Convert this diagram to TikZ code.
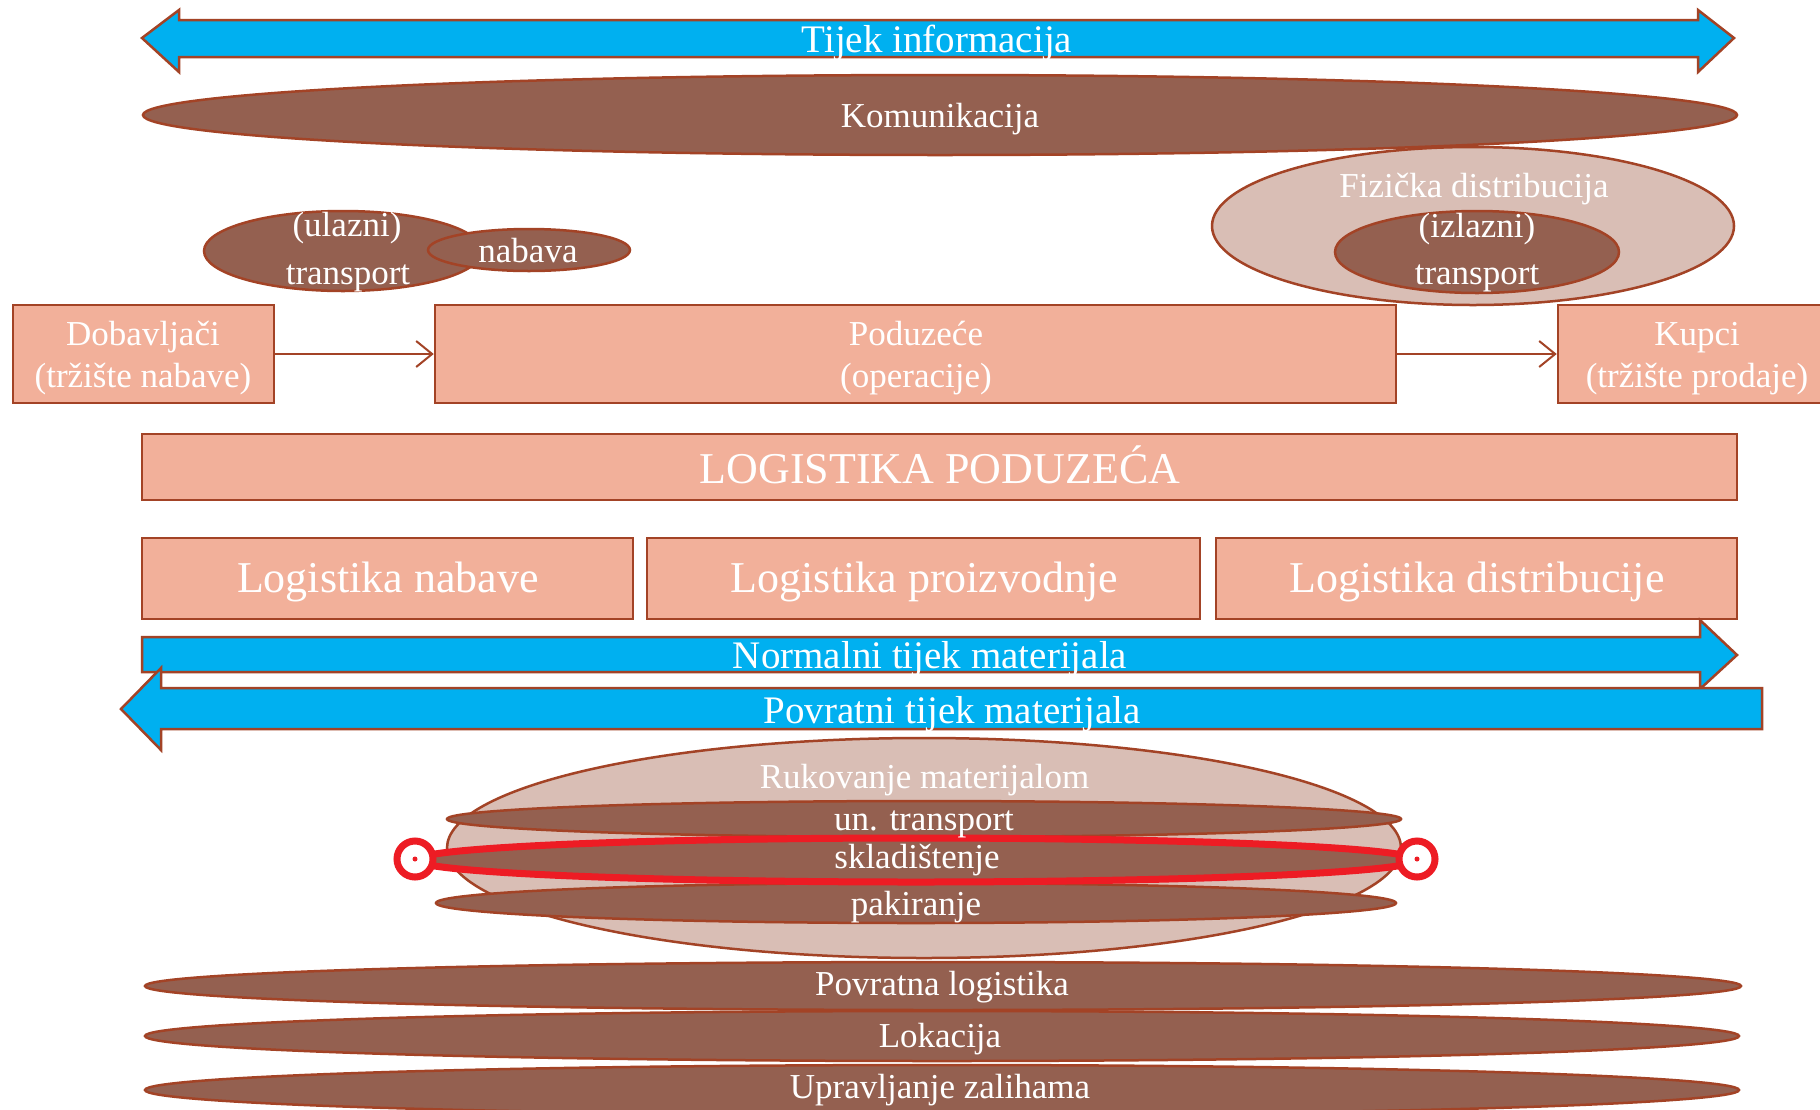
\documentclass[tikz,border=0pt]{standalone}
\usepackage{fontspec}
\setmainfont{Liberation Serif}
\usetikzlibrary{shapes.geometric,arrows.meta}
\definecolor{brd}{RGB}{163,67,38}
\definecolor{salmon}{RGB}{242,176,154}
\definecolor{dkbrown}{RGB}{148,96,80}
\definecolor{ltpink}{RGB}{217,190,181}
\definecolor{skyb}{RGB}{0,176,240}
\definecolor{redsel}{RGB}{237,28,36}
\newcommand\fsz[1]{\fontsize{#1}{#1}\selectfont}
\begin{document}
\begin{tikzpicture}[x=1pt,y=-1pt,
  bx/.style={draw=brd, fill=salmon, line width=2.5pt, rectangle, inner sep=0pt},
  dk/.style={draw=brd, fill=dkbrown, line width=2.5pt, ellipse, inner sep=0pt},
  lt/.style={draw=brd, fill=ltpink, line width=2.5pt, ellipse, inner sep=0pt},
  bar/.style={draw=brd, fill=skyb, line width=2.5pt, line join=miter},
  txt/.style={text=white, anchor=base, inner sep=0pt, font=\fsz{35}},
  big/.style={txt, font=\fsz{44}},
  mid/.style={txt, font=\fsz{39}},
  conn/.style={draw=brd, line width=2pt, -{Straight Barb[length=16pt,width=26pt]}},
  handle/.style={draw=redsel, line width=7pt, fill=white, circle, inner sep=0pt, minimum size=36pt}]
\useasboundingbox (0,0) rectangle (1820,1109);
\fill[white] (0,0) rectangle (1820,1109);

% information flow
\draw[bar] (142,38) -- (179,10) -- (179,20) -- (1698,20) -- (1698,10) -- (1734,38)
  -- (1698,72) -- (1698,57) -- (179,57) -- (179,72) -- cycle;
\node[mid] (tTijek) at (937,52) {Tijek informacija};

\node[dk, minimum width=1594pt, minimum height=80pt] (komm) at (940,115) {};
\node[txt] (tKomm) at (940,127) {Komunikacija};

% row of companies
\node[bx, minimum width=261pt, minimum height=98pt] (dob) at (143.5,354) {};
\node[bx, minimum width=961pt, minimum height=98pt] (pod) at (915.5,354) {};
\node[bx, minimum width=276pt, minimum height=98pt] (kup) at (1696,354) {};
\draw[conn] (dob) -- (pod);
\draw[conn] (pod) -- (kup);
\node[txt] (tDob1) at (143,345) {Dobavljači};
\node[txt] (tDob2) at (143,387) {(tržište nabave)};
\node[txt] (tPod1) at (916,345) {Poduzeće};
\node[txt] (tPod2) at (916,387) {(operacije)};
\node[txt] (tKup1) at (1697,345) {Kupci};
\node[txt] (tKup2) at (1697,387) {(tržište prodaje)};

% inbound
\node[dk, minimum width=278pt, minimum height=80pt] (ulaz) at (343,251) {};
\node[dk, minimum width=202pt, minimum height=42pt] (nab) at (529,250) {};
\node[txt] (tUl1) at (347,236) {(ulazni)};
\node[txt] (tUl2) at (348,284) {transport};
\node[txt] (tNab) at (528,262) {nabava};

% outbound
\node[lt, minimum width=522pt, minimum height=158pt] (fiz) at (1473,226) {};
\node[dk, minimum width=284pt, minimum height=82pt] (izl) at (1477,252) {};
\node[txt] (tFiz) at (1474,197) {Fizička distribucija};
\node[txt] (tIz1) at (1477,237) {(izlazni)};
\node[txt] (tIz2) at (1477,284) {transport};

% logistics boxes
\node[bx, minimum width=1595pt, minimum height=66pt] (logp) at (939.5,467) {};
\node[big] (tLogp) at (940,483) {LOGISTIKA PODUZEĆA};
\node[bx, minimum width=491pt, minimum height=81pt] (lnab) at (387.5,578.5) {};
\node[bx, minimum width=553pt, minimum height=81pt] (lpro) at (923.5,578.5) {};
\node[bx, minimum width=521pt, minimum height=81pt] (ldis) at (1476.5,578.5) {};
\node[big] (tLnab) at (388,592) {Logistika nabave};
\node[big] (tLpro) at (924.5,592) {Logistika proizvodnje};
\node[big] (tLdis) at (1477,592) {Logistika distribucije};

% material flows
\draw[bar] (142,637) -- (1700,637) -- (1700,620) -- (1737,655) -- (1700,689)
  -- (1700,672) -- (142,672) -- cycle;
\node[mid] (tNorm) at (930,668) {Normalni tijek materijala};
\draw[bar] (1762,688) -- (161,688) -- (161,668) -- (121,709) -- (161,750)
  -- (161,729) -- (1762,729) -- cycle;
\node[mid] (tPovr) at (952,723) {Povratni tijek materijala};

% material handling
\node[lt, minimum width=954pt, minimum height=220pt] (ruk) at (924,848) {};
\node[dk, minimum width=954pt, minimum height=36pt] (unt) at (924,819) {};
\node[dk, minimum width=960pt, minimum height=40pt] (pak) at (916,903) {};
\node[dk, draw=redsel, line width=7pt, minimum width=1000pt, minimum height=44pt] (skl) at (916,860) {};
\node[handle] (hL) at (415,859) {};
\node[handle] (hR) at (1417,859) {};
\fill[redsel] (hL) circle (2.5pt);
\fill[redsel] (hR) circle (2.5pt);
\node[txt] (tRuk) at (924.5,788) {Rukovanje materijalom};
\node[txt] (tUnt) at (924,830) {un. transport};
\node[txt] (tSkl) at (917,868) {skladištenje};
\node[txt] (tPak) at (916,915) {pakiranje};

% bottom ellipses
\node[dk, minimum width=1596pt, minimum height=48pt] (povl) at (943,986) {};
\node[txt] (tPovl) at (942,995) {Povratna logistika};
\node[dk, minimum width=1594pt, minimum height=50pt] (lok) at (942,1036) {};
\node[txt] (tLok) at (940,1047) {Lokacija};
\node[dk, minimum width=1594pt, minimum height=50pt] (upr) at (942,1090) {};
\node[txt] (tUpr) at (940,1098) {Upravljanje zalihama};
\end{tikzpicture}
\end{document}
